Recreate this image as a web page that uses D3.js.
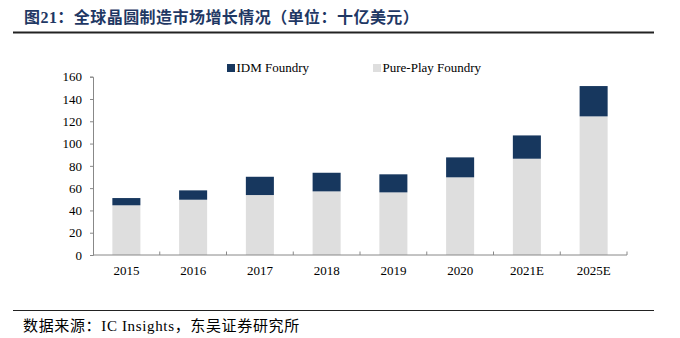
<!DOCTYPE html>
<html>
<head>
<meta charset="utf-8">
<script src="https://cdn.jsdelivr.net/npm/d3@7"></script>
<style>
  body { margin: 0; background: #fff; }
  svg { display: block; }
</style>
</head>
<body>
<div id="chart"></div>
<script>
// Data
var years = ["2015", "2016", "2017", "2018", "2019", "2020", "2021E", "2025E"];
var pureFoundry = [44.6, 49.6, 53.8, 57.1, 56.2, 69.7, 86.4, 124.4];
var idmFoundry = [6.5, 8.4, 16.4, 16.7, 16.2, 17.9, 20.9, 27.2];
var yTicks = [0, 20, 40, 60, 80, 100, 120, 140, 160];

var W = 680, H = 338;
var serif = "'Liberation Serif', 'Times New Roman', serif";
var cjk = "'Liberation Serif', 'Noto Sans CJK SC', sans-serif";

var svg = d3.select("#chart")
    .append("svg")
    .attr("width", W)
    .attr("height", H);

// Title
svg.append("text")
    .attr("x", 24)
    .attr("y", 23)
    .style("font-family", cjk)
    .style("font-size", "16px")
    .style("font-weight", "bold")
    .style("letter-spacing", "0.45px")
    .style("fill", "#1f3864")
    .text("图21：全球晶圆制造市场增长情况（单位：十亿美元）");

svg.append("line")
    .attr("x1", 13).attr("x2", 654)
    .attr("y1", 32.5).attr("y2", 32.5)
    .attr("stroke", "#222")
    .attr("stroke-width", 2);

// Plot area
var margin = { left: 93, right: 53 };
var x = d3.scaleBand()
    .domain(years)
    .range([margin.left, W - margin.right])
    .paddingInner(0.58)
    .paddingOuter(0.29);

var y = d3.scaleLinear()
    .domain([0, 160])
    .range([255, 76.7]);

// Stacked bars
var rows = years.map(function (d, i) {
  return { year: d, pure: pureFoundry[i], idm: idmFoundry[i] };
});
var stack = d3.stack().keys(["pure", "idm"])(rows);
var colors = { pure: "#dedede", idm: "#17375e" };

svg.selectAll("g.layer")
    .data(stack)
    .enter().append("g")
    .attr("class", "layer")
    .attr("fill", function (d) { return colors[d.key]; })
    .selectAll("rect")
    .data(function (d) { return d; })
    .enter().append("rect")
    .attr("x", function (d) { return x(d.data.year); })
    .attr("y", function (d) { return y(d[1]); })
    .attr("width", x.bandwidth())
    .attr("height", function (d) { return y(d[0]) - y(d[1]); });

// Y axis
var yAxis = svg.append("g")
    .attr("transform", "translate(" + margin.left + ",0)")
    .call(d3.axisLeft(y).tickValues(yTicks).tickSize(3).tickPadding(8));
yAxis.select(".domain").attr("stroke", "#888");
yAxis.selectAll(".tick line").attr("stroke", "#888");
yAxis.selectAll(".tick text")
    .style("font-family", serif)
    .style("font-size", "13px")
    .style("fill", "#000");

// X axis (ticks at band edges, pointing up)
var xAxis = svg.append("g")
    .attr("transform", "translate(0,255)");
xAxis.append("line")
    .attr("x1", margin.left).attr("x2", W - margin.right)
    .attr("stroke", "#888");
var step = x.step();
var edges = years.map(function (d) { return x(d) + x.bandwidth() / 2 + step / 2; });
xAxis.selectAll("line.tk")
    .data(edges)
    .enter().append("line")
    .attr("class", "tk")
    .attr("x1", function (d) { return d; })
    .attr("x2", function (d) { return d; })
    .attr("y1", 0).attr("y2", -3.5)
    .attr("stroke", "#888");
xAxis.selectAll("text")
    .data(years)
    .enter().append("text")
    .attr("x", function (d) { return x(d) + x.bandwidth() / 2; })
    .attr("y", 20)
    .attr("text-anchor", "middle")
    .style("font-family", serif)
    .style("font-size", "13px")
    .text(function (d) { return d; });

// Legend
var legend = [
  { label: "IDM Foundry", key: "idm", x: 227 },
  { label: "Pure-Play Foundry", key: "pure", x: 373 }
];
var lg = svg.selectAll("g.legend")
    .data(legend)
    .enter().append("g")
    .attr("class", "legend")
    .attr("transform", function (d) { return "translate(" + d.x + ",63)"; });
lg.append("rect")
    .attr("width", 8).attr("height", 8)
    .attr("y", 1)
    .attr("fill", function (d) { return colors[d.key]; });
lg.append("text")
    .attr("x", 9.5)
    .attr("y", 8.5)
    .style("font-family", serif)
    .style("font-size", "13px")
    .text(function (d) { return d.label; });

// Footer
svg.append("line")
    .attr("x1", 13).attr("x2", 654)
    .attr("y1", 310.5).attr("y2", 310.5)
    .attr("stroke", "#222")
    .attr("stroke-width", 1);

svg.append("text")
    .attr("x", 23)
    .attr("y", 331)
    .style("font-family", cjk)
    .style("font-size", "15px")
    .style("letter-spacing", "0.65px")
    .style("fill", "#000")
    .text("数据来源：IC Insights，东吴证券研究所");
</script>
</body>
</html>
